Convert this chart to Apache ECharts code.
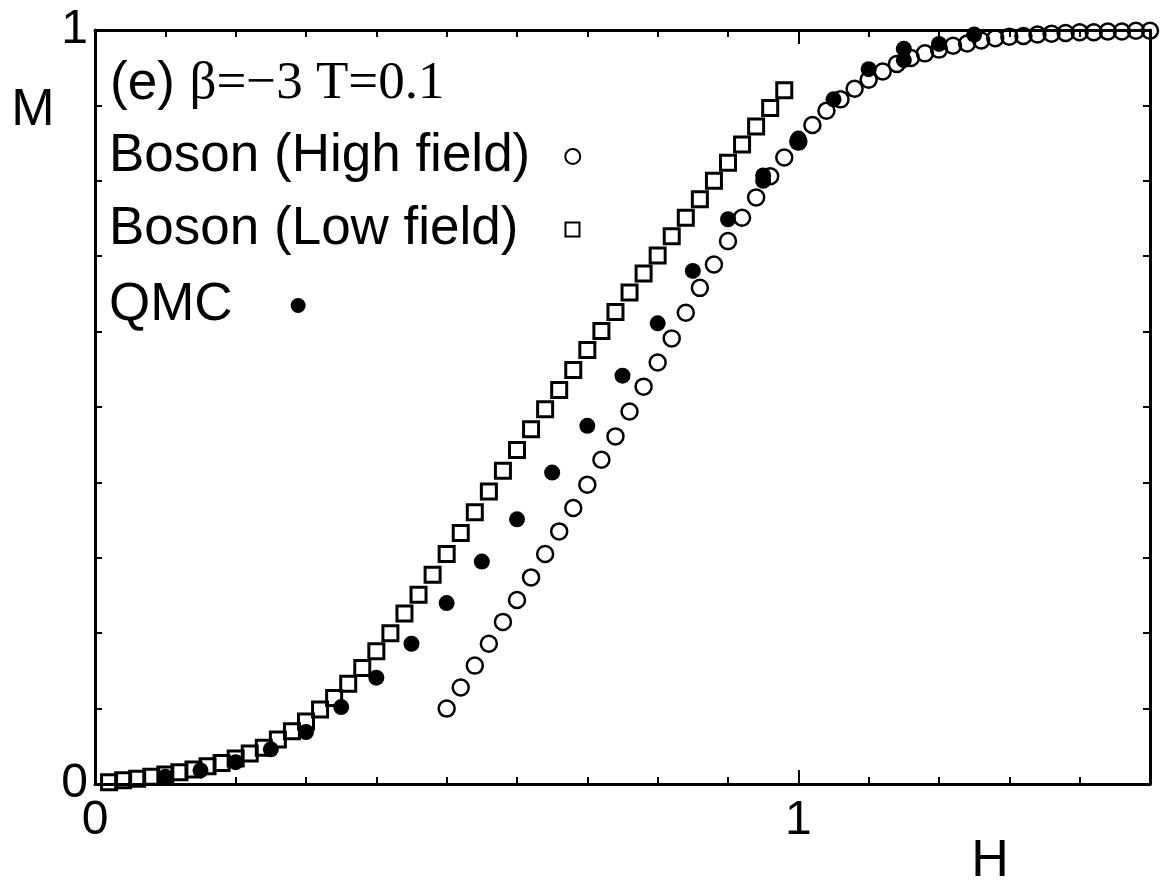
<!DOCTYPE html>
<html>
<head>
<meta charset="utf-8">
<script src="https://cdn.jsdelivr.net/npm/echarts@6/dist/echarts.min.js"></script>
<style>
html,body{margin:0;padding:0;background:#fff;}
#chart{width:1160px;height:892px;}
</style>
</head>
<body>
<div id="chart"></div>
<script>
// ---- data ----
var lowFieldH = [0.02,0.04,0.06,0.08,0.10,0.12,0.14,0.16,0.18,0.20,0.22,0.24,0.26,0.28,0.30,0.32,0.34,0.36,0.38,0.40,0.42,0.44,0.46,0.48,0.50,0.52,0.54,0.56,0.58,0.60,0.62,0.64,0.66,0.68,0.70,0.72,0.74,0.76,0.78,0.80,0.82,0.84,0.86,0.88,0.90,0.92,0.94,0.96,0.98];
var lowFieldM = [0.0024,0.005,0.007,0.0095,0.0126,0.0156,0.0192,0.0236,0.028,0.0338,0.0404,0.048,0.059,0.070,0.083,0.0987,0.114,0.133,0.154,0.176,0.200,0.226,0.251,0.2775,0.305,0.333,0.3605,0.388,0.4156,0.443,0.4705,0.497,0.5225,0.549,0.5755,0.6007,0.626,0.652,0.677,0.701,0.7265,0.751,0.7755,0.800,0.824,0.848,0.872,0.8965,0.920];

var highFieldH = [0.50,0.52,0.54,0.56,0.58,0.60,0.62,0.64,0.66,0.68,0.70,0.72,0.74,0.76,0.78,0.80,0.82,0.84,0.86,0.88,0.90,0.92,0.94,0.96,0.98,1.00,1.02,1.04,1.06,1.08,1.10,1.12,1.14,1.16,1.18,1.20,1.22,1.24,1.26,1.28,1.30,1.32,1.34,1.36,1.38,1.40,1.42,1.44,1.46,1.48,1.50];
var highFieldM = [0.100,0.128,0.157,0.186,0.215,0.244,0.274,0.305,0.335,0.366,0.397,0.430,0.461,0.494,0.527,0.559,0.591,0.625,0.658,0.689,0.720,0.751,0.778,0.806,0.831,0.852,0.874,0.893,0.908,0.922,0.934,0.945,0.955,0.963,0.969,0.974,0.979,0.982,0.986,0.989,0.991,0.992,0.994,0.995,0.996,0.997,0.997,0.998,0.998,0.999,0.999];

var qmcH = [0.10,0.15,0.20,0.25,0.30,0.35,0.40,0.45,0.50,0.55,0.60,0.65,0.70,0.75,0.80,0.85,0.90,0.95,0.95,1.00,1.00,1.05,1.10,1.15,1.15,1.20,1.25];
var qmcM = [0.0095,0.018,0.029,0.046,0.069,0.102,0.141,0.186,0.240,0.295,0.351,0.413,0.475,0.5415,0.611,0.6805,0.749,0.807,0.800,0.856,0.851,0.908,0.948,0.975,0.960,0.9815,0.994];

var xTickLabels = ['0','1'];
var yTickLabels = ['0','1'];
var seriesNames = ['Boson (High field)','Boson (Low field)','QMC'];
var annotation = ['(e) ', 'β=−3 T=0.1'];

function pairs(xs, ys){ return xs.map(function(x,i){ return [x, ys[i]]; }); }

var SANS = 'Liberation Sans, Arial, sans-serif';
var SERIF = 'Liberation Serif, Times New Roman, serif';

function labelFmt(list){
  return function(v){
    if (Math.abs(v) < 1e-9) return list[0];
    if (Math.abs(v - 1) < 1e-9) return list[1];
    return '';
  };
}

var lineStyle = {color:'#000', width:3};
var minorTick = {show:true, inside:true, length:7, lineStyle:{color:'#000', width:2}};
var majorTick = {show:true, inside:true, length:14, lineStyle:{color:'#000', width:2}};

function legendFor(name, icon, itemStyle, size, top, gap){
  return {
    data:[{name:name, icon:icon, itemStyle:itemStyle}],
    left:109, top:top - 30, align:'right', orient:'horizontal',
    padding:0, itemWidth:size, itemHeight:size, selectedMode:false,
    formatter:'{n|{name}}{g|}',
    textStyle:{
      color:'#000',
      rich:{
        n:{fontSize:53, fontFamily:SANS, lineHeight:60, color:'#000'},
        g:{width:gap, lineHeight:60}
      }
    }
  };
}

var chart = echarts.init(document.getElementById('chart'), null, {renderer:'canvas'});
chart.setOption({
  backgroundColor:'#fff',
  animation:false,
  grid:{left:95, right:10, top:30, bottom:108, containLabel:false},
  xAxis:[
    {type:'value', position:'bottom', min:0, max:1.5, interval:0.1,
     axisLine:{show:true, onZero:false, lineStyle:lineStyle}, axisTick:minorTick, splitLine:{show:false},
     axisLabel:{show:true, formatter:labelFmt(xTickLabels), fontSize:48, fontFamily:SANS, color:'#000', margin:13, showMaxLabel:false}},
    {type:'value', position:'bottom', min:0, max:1.5, interval:1,
     axisLine:{show:false, onZero:false}, axisTick:majorTick, splitLine:{show:false}, axisLabel:{show:false}},
    {type:'value', position:'top', min:0, max:1.5, interval:0.1,
     axisLine:{show:true, onZero:false, lineStyle:lineStyle}, axisTick:minorTick, splitLine:{show:false}, axisLabel:{show:false}},
    {type:'value', position:'top', min:0, max:1.5, interval:1,
     axisLine:{show:false, onZero:false}, axisTick:majorTick, splitLine:{show:false}, axisLabel:{show:false}}
  ],
  yAxis:[
    {type:'value', position:'left', min:0, max:1, interval:0.1,
     axisLine:{show:true, onZero:false, lineStyle:lineStyle}, axisTick:minorTick, splitLine:{show:false},
     axisLabel:{show:true, formatter:labelFmt(yTickLabels), fontSize:48, fontFamily:SANS, color:'#000', margin:7}},
    {type:'value', position:'right', min:0, max:1, interval:0.1,
     axisLine:{show:true, onZero:false, lineStyle:lineStyle}, axisTick:minorTick, splitLine:{show:false}, axisLabel:{show:false}}
  ],
  legend:[
    legendFor(seriesNames[0], 'circle', {color:'#fff', borderColor:'#000', borderWidth:2}, 15, 160, 30),
    legendFor(seriesNames[1], 'rect', {color:'#fff', borderColor:'#000', borderWidth:2}, 14, 233, 42),
    legendFor(seriesNames[2], 'circle', {color:'#000', borderWidth:0}, 15, 309, 53)
  ],
  series:[
    {name:seriesNames[0], type:'scatter', xAxisIndex:0, yAxisIndex:0, data:pairs(highFieldH, highFieldM),
     symbol:'circle', symbolSize:16, z:2,
     itemStyle:{color:'rgba(255,255,255,0)', borderColor:'#000', borderWidth:2.5, opacity:1}},
    {name:seriesNames[1], type:'scatter', xAxisIndex:0, yAxisIndex:0, data:pairs(lowFieldH, lowFieldM),
     symbol:'rect', symbolSize:15, z:3,
     itemStyle:{color:'rgba(255,255,255,0)', borderColor:'#000', borderWidth:3, opacity:1}},
    {name:seriesNames[2], type:'scatter', xAxisIndex:0, yAxisIndex:0, data:pairs(qmcH, qmcM),
     symbol:'circle', symbolSize:16, z:4,
     itemStyle:{color:'#000', opacity:1}}
  ],
  graphic:[
    {type:'text', x:110, y:84, z:10,
     style:{text:'{a|' + annotation[0] + '}{b|' + annotation[1] + '}', verticalAlign:'middle', align:'left',
       rich:{a:{fontSize:53, fontFamily:SANS, fill:'#000', lineHeight:60},
             b:{fontSize:53, fontFamily:SERIF, fill:'#000', lineHeight:60}}}},
    {type:'text', x:33, y:111, z:10,
     style:{text:'M', fontSize:52, fontFamily:SANS, fill:'#000', align:'center', verticalAlign:'middle'}},
    {type:'text', x:990, y:862, z:10,
     style:{text:'H', fontSize:52, fontFamily:SANS, fill:'#000', align:'center', verticalAlign:'middle'}}
  ]
});
</script>
</body>
</html>
